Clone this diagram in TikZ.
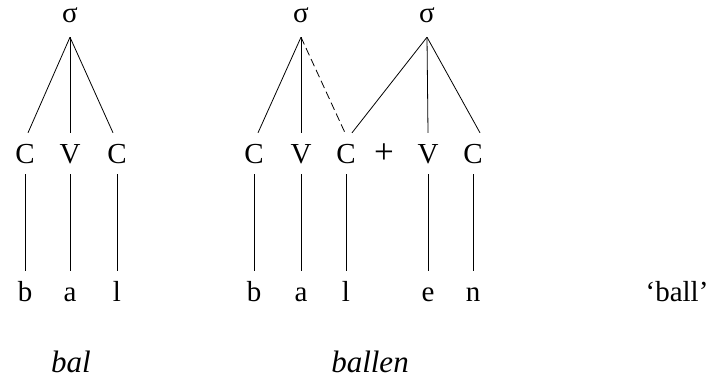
\documentclass[tikz,border=0pt]{standalone}
\usepackage{fontspec}
\setmainfont{Liberation Serif}
\usepackage{tikz}
\usetikzlibrary{calc}

\begin{document}
\begin{tikzpicture}[x=1pt, y=-1pt,
  every node/.style={font=\fontsize{29}{33}\selectfont, inner xsep=0pt},
  syl/.style={text height=13pt, text depth=0pt, inner ysep=14.5pt},
  cv/.style={text height=19pt, text depth=0pt, inner ysep=11pt},
  seg/.style={text height=20pt, text depth=0pt, inner ysep=10pt},
  word/.style={anchor=base, font=\fontsize{31}{35}\selectfont\itshape},
  assoc/.style={line width=0.8pt},
  newassoc/.style={line width=0.8pt, dash pattern=on 8pt off 4pt}]

\useasboundingbox (0,0) rectangle (717,378);

\node [syl] (s1) at (70, 16) {σ};
\node [cv] (c1) at (25, 153.5) {C};
\node [cv] (v1) at (70, 153.5) {V};
\node [cv] (c2) at (117, 153.5) {C};
\node [seg] (b1) at (25, 291) {b};
\node [seg] (a1) at (70, 291) {a};
\node [seg] (l1) at (117, 291) {l};
\node [word] (w1) at (71, 372) {bal};

\node [syl] (s2) at (301, 16) {σ};
\node [syl] (s3) at (427, 16) {σ};
\node [cv] (c3) at (254, 153.5) {C};
\node [cv] (v2) at (301, 153.5) {V};
\node [cv] (c4) at (346, 153.5) {C};
\node [cv, font=\fontsize{35}{39}\selectfont] (plus) at (384, 153.5) {+};
\node [cv] (v3) at (428, 153.5) {V};
\node [cv] (c5) at (473, 153.5) {C};
\node [seg] (b2) at (254, 291) {b};
\node [seg] (a2) at (301, 291) {a};
\node [seg] (l2) at (346, 291) {l};
\node [seg] (e2) at (428, 291) {e};
\node [seg] (n2) at (473, 291) {n};
\node [word] (w2) at (370, 372) {ballen};

\node [seg] (gloss) at (677, 291) {`ball'};

\draw [assoc] (s1.south) -- ([xshift=3pt]c1.north);
\draw [assoc] (s1.south) -- (v1.north);
\draw [assoc] (s1.south) -- ([xshift=-4pt]c2.north);
\draw [assoc] (c1.south) -- (b1.north);
\draw [assoc] (v1.south) -- (a1.north);
\draw [assoc] (c2.south) -- (l1.north);

\draw [assoc] (s2.south) -- ([xshift=4pt]c3.north);
\draw [assoc] (s2.south) -- (v2.north);
\draw [newassoc] (s2.south) -- ([xshift=-1pt]c4.north);
\draw [assoc] (s3.south) -- ([xshift=6pt]c4.north);
\draw [assoc] (s3.south) -- (v3.north);
\draw [assoc] (s3.south) -- ([xshift=7pt]c5.north);
\draw [assoc] (c3.south) -- (b2.north);
\draw [assoc] (v2.south) -- (a2.north);
\draw [assoc] (c4.south) -- (l2.north);
\draw [assoc] (v3.south) -- (e2.north);
\draw [assoc] (c5.south) -- (n2.north);

\end{tikzpicture}
\end{document}
